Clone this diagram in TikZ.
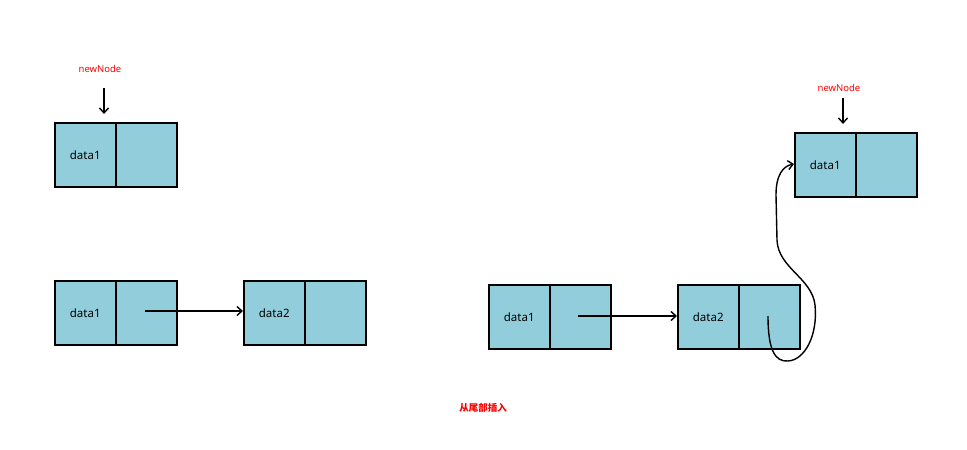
\documentclass[tikz,border=0pt]{standalone}
\usepackage{fontspec}
\setmainfont{Noto Sans}
\newfontfamily\cjk{Noto Sans CJK SC}
\usetikzlibrary{arrows.meta}
\definecolor{cellblue}{HTML}{92CDDC}
\begin{document}
\begin{tikzpicture}[x=1pt,y=-1pt,
  cell/.style={draw=black,line width=1.5pt,fill=cellblue,minimum width=61pt,minimum height=64pt,inner sep=0pt,anchor=north west,font=\fontsize{11.5}{13}\selectfont},
  link/.style={line width=1.4pt,-{Straight Barb[length=5pt,width=9pt]}},
  lbl/.style={text=red,font=\fontsize{9.5}{11}\selectfont}]
\useasboundingbox (0,0) rectangle (967,450);
% top-left new node
\node[cell] (n1) at (54,122) {data1};
\node[cell] (n1p) at (115,122) {};
\node[lbl] (nl1) at (100,69) {newNode};
\coordinate (nt1) at (104,88);
\draw[link] (nt1) -- ([yshift=8pt]n1.north -| nt1);
% left list
\node[cell] (a1) at (54,280) {data1};
\node[cell] (a1p) at (115,280) {};
\node[cell] (a2) at (243,280) {data2};
\node[cell] (a2p) at (304,280) {};
\coordinate (as) at (145,311);
\draw[link] (as) -- (as -| a2.west);
% right list
\node[cell] (b1) at (488,284) {data1};
\node[cell] (b1p) at (549,284) {};
\node[cell] (b2) at (677,284) {data2};
\node[cell] (b2p) at (738,284) {};
\coordinate (bs) at (578,316);
\draw[link] (bs) -- (bs -| b2.west);
% right new node
\node[cell] (n2) at (794,132) {data1};
\node[cell] (n2p) at (855,132) {};
\node[lbl] (nl2) at (839,88) {newNode};
\coordinate (nt2) at (843,98);
\draw[link] (nt2) -- ([yshift=8pt]n2.north -| nt2);
% curve
\coordinate (cs) at (768,316);
\coordinate (ce) at (794,164);
\draw[link] (cs) .. controls (768,350) and (775,362) .. (788,361)
  .. controls (805,360) and (818,335) .. (815,305)
  .. controls (812,278) and (778,268) .. (777,240)
  -- (776,195) .. controls (776,175) and (783,166) .. (ce);
% caption
\node[text=red,font=\cjk\bfseries\fontsize{9.5}{11}\selectfont] (cap) at (483,408) {从尾部插入};
\end{tikzpicture}
\end{document}
